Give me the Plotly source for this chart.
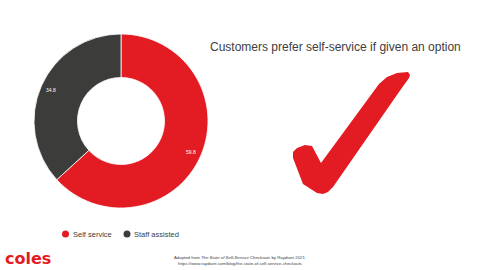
import math
import plotly.graph_objects as go

categories = ["Self service", "Staff assisted"]
values = [59.8, 34.8]
colors = ["#E31B23", "#3C3C3B"]

title_text = "Customers prefer self-service if given an option"
source_lines = [
    "Adapted from <i>The State of Self-Service Checkouts</i> by Raydiant 2021.",
    "https://www.raydiant.com/blog/the-state-of-self-service-checkouts",
]

W, H = 480, 270

def px(x, y):
    return x / W, 1 - y / H

# pie geometry (pixels)
CX, CY, R = 121, 121, 87

fig = go.Figure()
fig.add_trace(go.Pie(
    labels=categories, values=values, hole=0.5, sort=False,
    direction="clockwise", rotation=0,
    marker=dict(colors=colors, line=dict(color="white", width=0.8)),
    textinfo="none",
    domain=dict(x=[(CX - R) / W, (CX + R) / W], y=[1 - (CY + R) / H, 1 - (CY - R) / H]),
    showlegend=False, hoverinfo="label+value",
))

shapes = []
annotations = []

# value labels near the outer edge of each slice
total = sum(values)
cum = 0.0
for v in values:
    mid = (cum + v / 2) / total * 2 * math.pi
    cum += v
    lxp = CX + 0.885 * R * math.sin(mid)
    lyp = CY - 0.885 * R * math.cos(mid)
    ax, ay = px(lxp, lyp)
    annotations.append(dict(x=ax, y=ay, xref="paper", yref="paper", text=f"{v:.1f}",
                            showarrow=False, xanchor="center", yanchor="middle",
                            font=dict(size=5, color="white", family="Liberation Sans")))

# legend (circle markers + labels)
leg_items = [(65.5, 72, categories[0], colors[0]), (127, 133, categories[1], colors[1])]
for cx, tx, name, col in leg_items:
    x0, y0 = px(cx - 3.5, 234 - 3.5)
    x1, y1 = px(cx + 3.5, 234 + 3.5)
    shapes.append(dict(type="circle", xref="paper", yref="paper",
                       x0=x0, x1=x1, y0=y1, y1=y0,
                       fillcolor=col, line=dict(width=0)))
    ax, ay = px(tx - 1, 234)
    annotations.append(dict(x=ax, y=ay, xref="paper", yref="paper", text=name,
                            showarrow=False, xanchor="left", yanchor="middle",
                            font=dict(size=7.5, color="#404040", family="Liberation Sans")))

# title
tx, ty = px(335, 47)
annotations.append(dict(x=tx, y=ty, xref="paper", yref="paper", text=title_text,
                        showarrow=False, xanchor="center", yanchor="middle",
                        font=dict(size=12, color="#404040", family="Liberation Sans")))

# coles logo
lx, ly = px(3, 270)
annotations.append(dict(x=lx, y=ly, xref="paper", yref="paper", text="<b>coles</b>",
                        showarrow=False, xanchor="left", yanchor="bottom",
                        font=dict(size=16, color="#E31B23", family="DejaVu Sans")))

# source
sx, sy = px(240, 260)
annotations.append(dict(x=sx, y=sy, xref="paper", yref="paper",
                        text="<br>".join(source_lines),
                        showarrow=False, xanchor="center", yanchor="middle",
                        font=dict(size=4.3, color="#404040", family="Liberation Sans")))

# check mark decoration
pts = [(317, 193), (303, 184), (293, 158), (293, 152), (297, 148), (305, 145), (312, 146),
       (321, 163), (379, 84), (387, 77), (397, 73), (408, 72), (410, 75), (409, 78),
       (399, 92), (333, 187), (328, 192), (323, 194)]
path = ""
for i, (x, y) in enumerate(pts):
    X, Y = px(x, y)
    path += ("M" if i == 0 else "L") + f"{X:.5f},{Y:.5f} "
path += "Z"
shapes.append(dict(type="path", xref="paper", yref="paper", path=path,
                   fillcolor="#E31B23", line=dict(width=0)))

fig.update_layout(
    width=W, height=H, margin=dict(l=0, r=0, t=0, b=0),
    paper_bgcolor="white", plot_bgcolor="white",
    shapes=shapes, annotations=annotations, showlegend=False,
)
fig.write_html("out.html")
